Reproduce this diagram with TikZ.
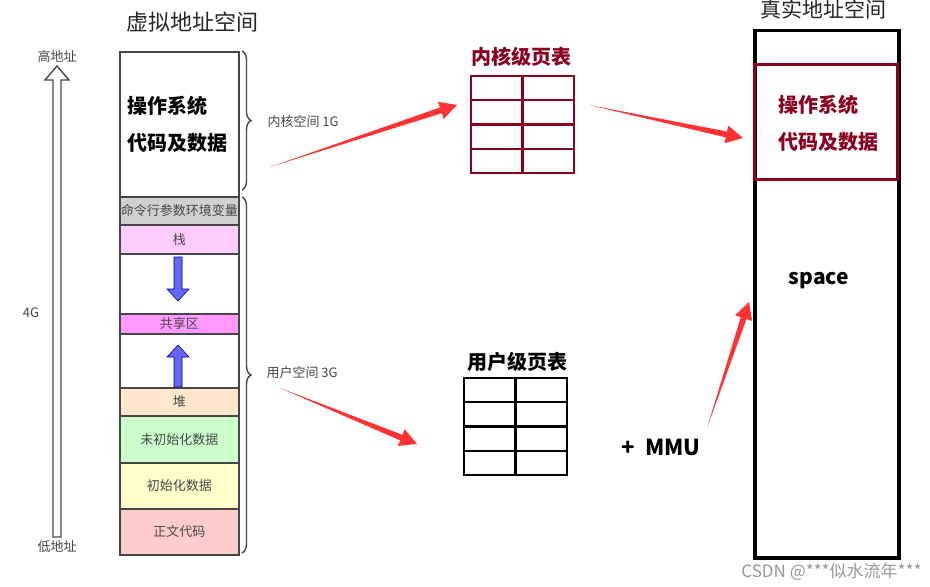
\documentclass[tikz,border=0pt]{standalone}
\usepackage{fontspec}
\setmainfont{Noto Sans CJK SC}
\usetikzlibrary{calc,decorations.pathreplacing}
\definecolor{kred}{RGB}{139,0,32}
\definecolor{arrred}{RGB}{255,51,51}
\definecolor{segline}{RGB}{70,70,70}
\definecolor{txtgray}{RGB}{70,70,70}
\tikzset{
  seg/.style={draw=segline,line width=1.6bp,minimum width=119bp,inner sep=0pt,anchor=north west},
  small/.style={font=\fontsize{13bp}{15bp}\selectfont,text=txtgray},
  big/.style={font=\fontsize{20bp}{24bp}\selectfont\bfseries},
  ptab/.style={draw=#1,line width=2.2bp,minimum width=103bp,minimum height=97bp,inner sep=0pt},
  bluearr/.style={fill=blue!60,draw=blue!50!black,line width=0.6bp},
  brc/.style={decorate,decoration={brace,amplitude=9bp},draw=segline,line width=1.4bp},
}
% tapered red arrow from #1 to #2
\newcommand\redarrow[2]{%
  \path ($(#2)!17bp!(#1)$) coordinate (h);
  \fill[arrred] (#1) -- ($(h)!3bp!90:(#2)$) -- ($(h)!9bp!90:(#2)$) -- (#2)
    -- ($(h)!9bp!-90:(#2)$) -- ($(h)!3bp!-90:(#2)$) -- cycle;
}
\begin{document}
\begin{tikzpicture}[x=1bp,y=-1bp,>=latex,line join=miter]
\useasboundingbox (0,0) rectangle (930,587);
\fill[white] (0,0) rectangle (930,587);
%%
% Titles
\node[font=\fontsize{22bp}{26bp}\selectfont,text=black!85] (vtitle) at (192,22) {虚拟地址空间};
\node[font=\fontsize{21bp}{26bp}\selectfont,text=black!85] (ptitle) at (823,9) {真实地址空间};
%
% Node: address axis
\draw[segline,line width=1.4bp,fill=white] (53,537) -- (53,80) -- (45,80) -- (57,66) -- (69,80) -- (61,80) -- (61,537) -- cycle;
\node[small] (hi) at (57,57) {高地址};
\node[small] (lo) at (57,547) {低地址};
\node[small] (four) at (31,313) {4G};
%
% Node: virtual address space
\node[seg,fill=white,minimum height=145bp] (kern) at (119,51) {};
\node[seg,fill=black!18,minimum height=28bp,small] (args) at (119,196) {命令行参数环境变量};
\node[seg,fill={rgb,255:red,255;green,204;blue,255},minimum height=29bp,small] (stack) at (119,224) {栈};
\node[seg,fill=white,minimum height=60bp] (gap1) at (119,253) {};
\node[seg,fill={rgb,255:red,255;green,153;blue,255},minimum height=20bp,small] (shared) at (119,313) {共享区};
\node[seg,fill=white,minimum height=54bp] (gap2) at (119,333) {};
\node[seg,fill={rgb,255:red,255;green,230;blue,204},minimum height=28bp,small] (heap) at (119,387) {堆};
\node[seg,fill={rgb,255:red,204;green,255;blue,204},minimum height=47bp,small] (bss) at (119,415) {未初始化数据};
\node[seg,fill={rgb,255:red,255;green,255;blue,204},minimum height=46bp,small] (data) at (119,462) {初始化数据};
\node[seg,fill={rgb,255:red,255;green,204;blue,204},minimum height=46bp,small] (text) at (119,508) {正文代码};
\node[big,anchor=west] (kt1) at (124,106) {操作系统};
\node[big,anchor=west] (kt2) at (124,143) {代码及数据};
%
% stack / heap growth
\draw[bluearr] (174,257) -- (182,257) -- (182,289) -- (189,289) -- (178,301) -- (167,289) -- (174,289) -- cycle;
\draw[bluearr] (174,387) -- (182,387) -- (182,357) -- (189,357) -- (178,345) -- (167,357) -- (174,357) -- cycle;
%
% Braces
\draw[brc] (242,51) -- (242,190);
\draw[brc] (242,197) -- (242,553);
\node[small,anchor=west] (kspace) at (264,122) {内核空间 1G};
\node[small,anchor=west] (uspace) at (263,373) {用户空间 3G};
%
% Node: kernel page table
\node[big,text=kred] (ktitle) at (521,57) {内核级页表};
\node[ptab=kred] (ktab) at (522.5,124.5) {};
\draw[kred,line width=2.2bp] (ktab.north) -- (ktab.south);
\foreach \i in {1,2,3}
  \draw[kred,line width=2.2bp] ($(ktab.north west)!\i/4!(ktab.south west)$) -- ($(ktab.north east)!\i/4!(ktab.south east)$);
%
% Node: user page table
\node[big] (utitle) at (517,362) {用户级页表};
\node[ptab=black] (utab) at (515.5,426.5) {};
\draw[black,line width=2.2bp] (utab.north) -- (utab.south);
\foreach \i in {1,2,3}
  \draw[black,line width=2.2bp] ($(utab.north west)!\i/4!(utab.south west)$) -- ($(utab.north east)!\i/4!(utab.south east)$);
\node[big,font=\fontsize{22bp}{26bp}\selectfont\bfseries] (mmu) at (661,447) {+\ \ MMU};
%
% Node: physical address space
\node[draw=black,line width=3.5bp,minimum width=144bp,minimum height=527bp,inner sep=0pt,anchor=north west] (phys) at (753,29) {};
\node[draw=kred,line width=3bp,minimum width=143bp,minimum height=115bp,inner sep=0pt,anchor=north west] (pkern) at (753,63) {};
\node[big,text=kred,anchor=west] (pk1) at (775,105) {操作系统};
\node[big,text=kred,anchor=west] (pk2) at (775,142) {代码及数据};
\node[big,font=\fontsize{21bp}{24bp}\selectfont\bfseries] (space) at (819,281) {space};
%
% Edge: kernel space -> kernel page table -> physical
\coordinate (e1s) at (270,167);
\coordinate (e1t) at (457,105);
\redarrow{e1s}{e1t}
\coordinate (e2s) at (589,105);
\coordinate (e2t) at (743,138);
\redarrow{e2s}{e2t}
% Edge: user space -> user page table -> physical
\coordinate (e3s) at (280,388);
\coordinate (e3t) at (417,444);
\redarrow{e3s}{e3t}
\coordinate (e4s) at (707,428);
\coordinate (e4t) at (749,302);
\redarrow{e4s}{e4t}
%
\node[font=\fontsize{17bp}{20bp}\selectfont,text=black!40,anchor=east] (mark) at (925,572) {CSDN @***似水流年***};
\end{tikzpicture}
\end{document}
